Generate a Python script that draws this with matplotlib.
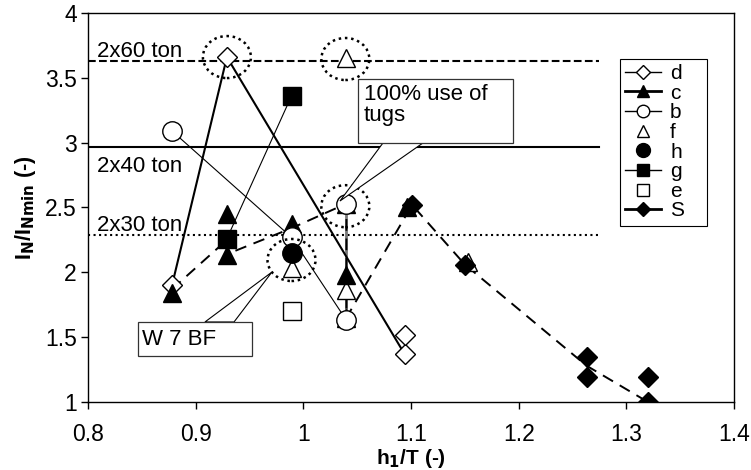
import matplotlib
matplotlib.use('Agg')
import matplotlib.pyplot as plt
from matplotlib.lines import Line2D
from matplotlib.patches import Ellipse, Rectangle, Polygon

plt.rcParams['font.family'] = ['Liberation Sans', 'DejaVu Sans']

# series
d_x = [0.878, 0.929, 1.094, 1.094]
d_y = [1.90, 3.66, 1.37, 1.52]
c_x = [0.878, 0.929, 0.929, 0.989, 1.040, 1.040, 1.040, 1.096]
c_y = [1.84, 2.45, 2.13, 2.37, 2.53, 1.98, 1.65, 2.50]
b_x = [0.878, 0.989, 1.040, 1.040]
b_y = [3.09, 2.27, 1.63, 2.53]
f_x = [0.989, 1.040, 1.040, 1.153]
f_y = [2.03, 3.65, 1.86, 2.08]
h_x = [0.989]
h_y = [2.15]
g_x = [0.929, 0.989]
g_y = [2.26, 3.36]
e_x = [0.989]
e_y = [1.70]
S_x = [1.101, 1.150, 1.263, 1.263, 1.320, 1.320]
S_y = [2.52, 2.06, 1.35, 1.19, 1.19, 1.00]

# dashed trend through c and S
trend_x = [0.878, 0.929, 0.929, 0.989, 1.040, 1.040, 1.101, 1.150, 1.263, 1.320]
trend_y = [1.87, 2.25, 2.14, 2.34, 2.53, 1.65, 2.52, 2.06, 1.28, 1.00]

# tug limits
tug_levels = [3.63, 2.97, 2.29]
tug_labels = ['2x60 ton', '2x40 ton', '2x30 ton']
tug_styles = ['--', '-', ':']
tug_label_y = [3.66, 2.775, 2.32]

# dotted rings
ring_x = [0.929, 1.039, 1.039, 0.989]
ring_y = [3.66, 3.645, 2.51, 2.095]

fig = plt.figure(figsize=(7.51, 4.70), dpi=100)
ax = fig.add_axes([0.1172, 0.1447, 0.8602, 0.8277])

for lev, st in zip(tug_levels, tug_styles):
    ax.plot([0.8, 1.275], [lev, lev], color='black', ls=st, lw=1.5, zorder=1)
for lab, ly in zip(tug_labels, tug_label_y):
    ax.text(0.8085, ly, lab, fontsize=16, va='baseline', ha='left', zorder=2)

ax.plot(trend_x, trend_y, color='black', ls=(0, (6, 4)), lw=1.4, zorder=2)
ax.plot(d_x[:3], d_y[:3], color='black', lw=1.5, zorder=2)
ax.plot(b_x[:3], b_y[:3], color='black', lw=0.8, zorder=2)
ax.plot(b_x[2:], b_y[2:], color='#777777', lw=2.0, zorder=1.5)
ax.plot(g_x, g_y, color='black', lw=0.8, zorder=2)

ax.plot(d_x, d_y, ls='none', marker='D', ms=10, mfc='white', mec='black', mew=1.0, zorder=3)
ax.plot(f_x, f_y, ls='none', marker='^', ms=13, mfc='white', mec='black', mew=1.0, zorder=3.5)
ax.plot(c_x, c_y, ls='none', marker='^', ms=13, mfc='black', mec='black', zorder=4)
ax.plot(b_x, b_y, ls='none', marker='o', ms=14, mfc='white', mec='black', mew=1.0, zorder=5)
ax.plot(h_x, h_y, ls='none', marker='o', ms=14, mfc='black', mec='black', zorder=6)
ax.plot(g_x, g_y, ls='none', marker='s', ms=13, mfc='black', mec='black', zorder=6)
ax.plot(e_x, e_y, ls='none', marker='s', ms=13, mfc='white', mec='black', mew=1.0, zorder=6)
ax.plot(S_x, S_y, ls='none', marker='D', ms=10, mfc='black', mec='black', zorder=7)

for rx, ry in zip(ring_x, ring_y):
    ax.add_patch(Ellipse((rx, ry), 0.0446, 0.324, fill=False, ls=(0, (1, 1.5)),
                         lw=1.8, ec='black', zorder=8))

# callouts
ax.add_patch(Polygon([[1.0739, 2.997], [1.111, 2.997], [1.034, 2.55]], closed=True,
                     fc='white', ec='black', lw=0.8, zorder=9))
ax.add_patch(Rectangle((1.0507, 2.997), 0.1439, 0.493, fc='white', ec='#333333', lw=0.9, zorder=9.5))
ax.text(1.056, 3.455, '100% use of\ntugs', fontsize=16, va='top', ha='left',
        linespacing=1.05, zorder=10)

ax.add_patch(Polygon([[0.9086, 1.617], [0.9356, 1.617], [0.9708, 2.002]], closed=True,
                     fc='white', ec='black', lw=0.8, zorder=9))
ax.add_patch(Rectangle((0.8464, 1.355), 0.1059, 0.262, fc='white', ec='#333333', lw=0.9, zorder=9.5))
ax.text(0.8500, 1.44, 'W 7 BF', fontsize=16, va='baseline', ha='left', zorder=10)

ax.set_xlim(0.8, 1.4)
ax.set_ylim(1, 4)
ax.set_xticks([0.8, 0.9, 1.0, 1.1, 1.2, 1.3, 1.4])
ax.set_xticklabels(['0.8', '0.9', '1', '1.1', '1.2', '1.3', '1.4'])
ax.set_yticks([1, 1.5, 2, 2.5, 3, 3.5, 4])
ax.set_yticklabels(['1', '1.5', '2', '2.5', '3', '3.5', '4'])
ax.tick_params(direction='out', length=5, width=1, labelsize=16.5)
ax.tick_params(axis='x', pad=10)
ax.tick_params(axis='y', pad=3)
for sp in ax.spines.values():
    sp.set_linewidth(1.0)

ax.set_xlabel('h$_\\mathbf{1}$/T (-)', fontsize=15, fontweight='bold', labelpad=1)
ax.set_ylabel('I$_\\mathbf{N}$/I$_\\mathbf{Nmin}$ (-)', fontsize=15.5, fontweight='bold', labelpad=5)

handles = [
    Line2D([], [], color='black', lw=1.0, marker='D', ms=7, mfc='white', mec='black'),
    Line2D([], [], color='black', lw=2.0, marker='^', ms=9, mfc='black', mec='black'),
    Line2D([], [], color='black', lw=1.0, marker='o', ms=9, mfc='white', mec='black'),
    Line2D([], [], ls='none', marker='^', ms=9, mfc='white', mec='black'),
    Line2D([], [], ls='none', marker='o', ms=10, mfc='black', mec='black'),
    Line2D([], [], color='black', lw=1.0, marker='s', ms=9, mfc='black', mec='black'),
    Line2D([], [], ls='none', marker='s', ms=9, mfc='white', mec='black'),
    Line2D([], [], color='black', lw=2.0, marker='D', ms=7, mfc='black', mec='black'),
]
labels = ['d', 'c', 'b', 'f', 'h', 'g', 'e', 'S']
leg = ax.legend(handles, labels, loc='upper left', bbox_to_anchor=(0.8235, 0.3, 0.1347, 0.582),
                mode='expand', borderaxespad=0.0,
                fontsize=15, labelspacing=0.03, handlelength=1.7, handletextpad=0.45,
                borderpad=0.25, fancybox=False, framealpha=1, edgecolor='black')
leg.get_frame().set_linewidth(0.8)
leg.set_zorder(11)

fig.savefig('out.png', dpi=100)
